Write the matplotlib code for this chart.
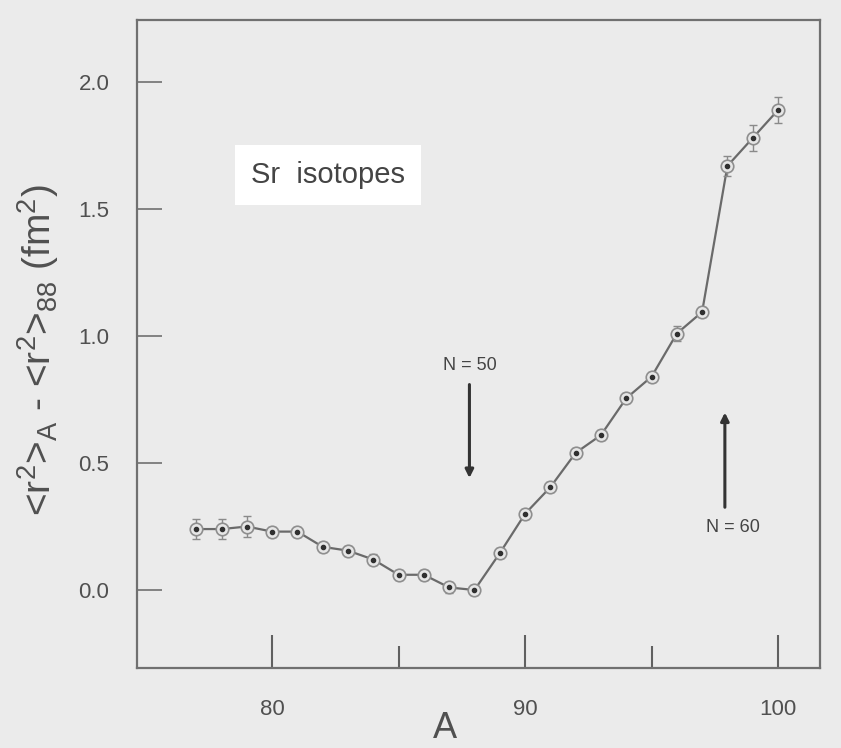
import numpy as np
import matplotlib
matplotlib.use("Agg")
import matplotlib.pyplot as plt
from matplotlib.ticker import FixedLocator

# mass number and mean-square charge radius change relative to 88Sr
mass_number = [77, 78, 79, 80, 81, 82, 83, 84, 85, 86, 87, 88,
               89, 90, 91, 92, 93, 94, 95, 96, 97, 98, 99, 100]
delta_r2 = [0.24, 0.24, 0.25, 0.23, 0.23, 0.17, 0.155, 0.12, 0.06, 0.06, 0.01, 0.0,
            0.145, 0.30, 0.405, 0.54, 0.61, 0.755, 0.84, 1.01, 1.095, 1.67, 1.78, 1.89]
delta_err = [0.04, 0.04, 0.04, 0.02, 0.02, 0.02, 0.02, 0.02, 0.02, 0.02, 0.02, 0.02,
             0.02, 0.02, 0.02, 0.02, 0.02, 0.02, 0.02, 0.03, 0.02, 0.04, 0.05, 0.05]

y_ticks = [0.0, 0.5, 1.0, 1.5, 2.0]
x_major = [80, 90, 100]
x_minor = [85, 95]

plt.rcParams['font.family'] = ['Liberation Sans', 'DejaVu Sans']
plt.rcParams['mathtext.default'] = 'regular'

bg = '#ebebeb'
ink = '#505050'

fig = plt.figure(figsize=(8.41, 7.48), dpi=100, facecolor=bg)
ax = fig.add_axes([0.163, 0.107, 0.812, 0.866], facecolor=bg)

ax.plot(mass_number, delta_r2, '-', color='#6a6a6a', lw=1.6, zorder=2)
ax.errorbar(mass_number, delta_r2, yerr=delta_err, fmt='none', ecolor='#8a8a8a',
            elinewidth=1.0, capsize=3, capthick=1.0, zorder=2)
ax.plot(mass_number, delta_r2, 'o', ms=9, mfc='#e6e6e6', mec='#8e8e8e', mew=1.2, zorder=3)
ax.plot(mass_number, delta_r2, 'o', ms=3, color='#303030', zorder=4)

ax.set_xlim(74.66, 101.66)
ax.set_ylim(-0.307, 2.244)

ax.set_yticks(y_ticks)
ax.set_yticklabels([f'{v:.1f}' for v in y_ticks])
ax.xaxis.set_major_locator(FixedLocator(x_major))
ax.xaxis.set_minor_locator(FixedLocator(x_minor))
ax.set_xticklabels([str(v) for v in x_major])

ax.tick_params(axis='y', direction='in', length=18, width=1.2, color='#707070',
               pad=20, labelsize=16, labelcolor=ink)
ax.tick_params(axis='x', which='major', direction='in', length=24, width=1.5,
               color='#606060', pad=22, labelsize=16, labelcolor=ink)
ax.tick_params(axis='x', which='minor', direction='in', length=16, width=1.5,
               color='#606060')

for side in ax.spines.values():
    side.set_color('#707070')
    side.set_linewidth(1.6)

fig.text(445 / 841, 1 - 729 / 748, 'A', fontsize=26, color=ink, ha='center', va='center')
fig.text(38 / 841, 1 - 350 / 748, '<r$^2$>$_A$ - <r$^2$>$_{88}$ (fm$^2$)', fontsize=28,
         color=ink, rotation=90, ha='center', va='center')

ax.text(82.2, 1.635, 'Sr  isotopes', fontsize=21, color='#444444', ha='center', va='center',
        bbox=dict(boxstyle='square,pad=0.55', fc='white', ec='none'))

# shell closures
ax.annotate('', xy=(87.8, 0.43), xytext=(87.8, 0.82),
            arrowprops=dict(arrowstyle='-|>', color='#333333', lw=2.2, mutation_scale=12))
ax.text(87.8, 0.885, 'N = 50', fontsize=13, color='#444444', ha='center', va='center')
ax.annotate('', xy=(97.9, 0.71), xytext=(97.9, 0.315),
            arrowprops=dict(arrowstyle='-|>', color='#333333', lw=2.2, mutation_scale=12))
ax.text(98.2, 0.245, 'N = 60', fontsize=13, color='#444444', ha='center', va='center')

fig.savefig('out.png', dpi=100, facecolor=bg)
